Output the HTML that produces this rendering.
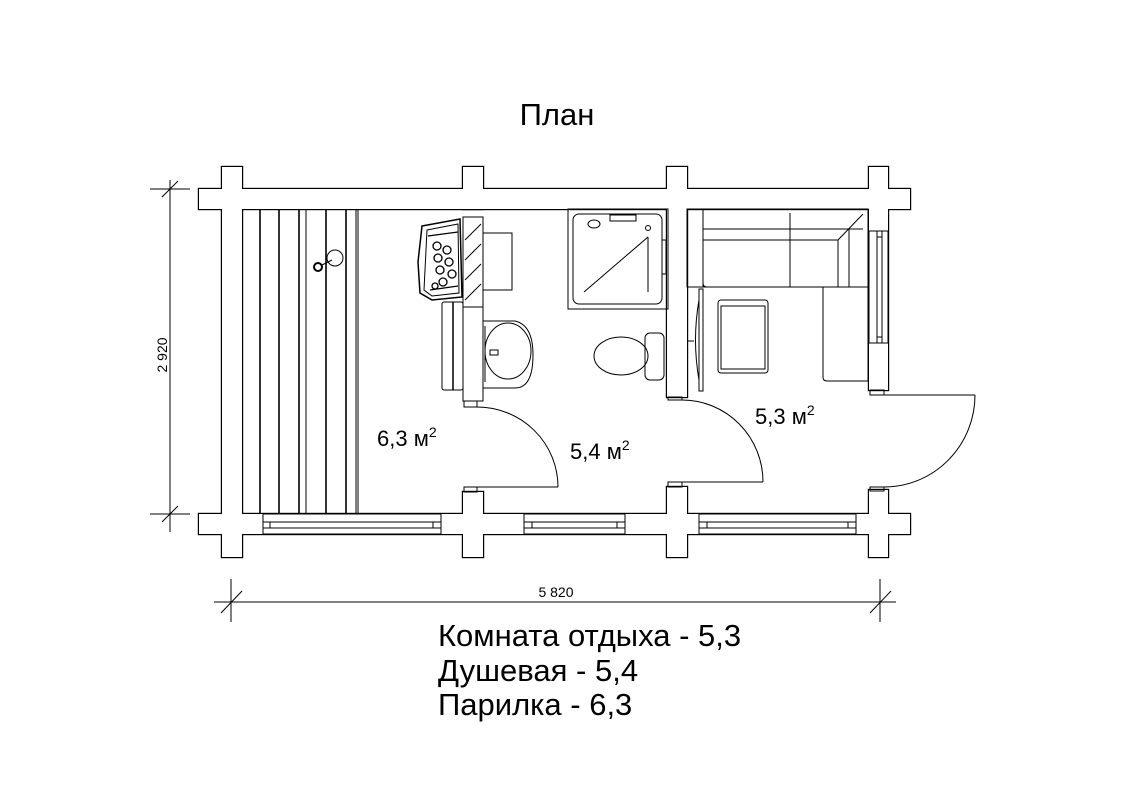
<!DOCTYPE html>
<html><head><meta charset="utf-8"><style>
html,body{margin:0;padding:0;background:#fff;}
svg{display:block;}
text{font-family:"Liberation Sans",sans-serif;fill:#000;}
</style></head><body>
<svg width="1123" height="794" viewBox="0 0 1123 794" xmlns="http://www.w3.org/2000/svg">
<rect width="1123" height="794" fill="#fff"/>
<text x="557" y="125" font-size="31" text-anchor="middle">План</text>

<g stroke="#000" stroke-width="2.4" fill="#fff">
<rect x="199" y="189" width="711" height="20"/>
<rect x="199" y="514" width="711" height="20"/>
<rect x="222" y="167" width="20" height="390"/>
<rect x="463" y="167" width="20" height="42"/>
<rect x="463" y="492" width="20" height="65"/>
<rect x="667" y="167" width="20" height="230"/>
<rect x="667" y="487" width="20" height="70"/>
<rect x="869" y="167" width="19" height="223"/>
<rect x="869" y="490" width="19" height="67"/>
</g>
<g fill="#fff">
<rect x="199" y="189" width="711" height="20"/>
<rect x="199" y="514" width="711" height="20"/>
<rect x="222" y="167" width="20" height="390"/>
<rect x="463" y="167" width="20" height="42"/>
<rect x="463" y="492" width="20" height="65"/>
<rect x="667" y="167" width="20" height="230"/>
<rect x="667" y="487" width="20" height="70"/>
<rect x="869" y="167" width="19" height="223"/>
<rect x="869" y="490" width="19" height="67"/>
</g>

<g stroke="#000" stroke-width="1" fill="none">
<rect x="263" y="514" width="178" height="20"/>
<line x1="263" y1="522" x2="441" y2="522"/><line x1="263" y1="528" x2="441" y2="528"/>
<line x1="270" y1="522" x2="270" y2="528"/><line x1="433" y1="522" x2="433" y2="528"/>
<rect x="524" y="514" width="101" height="20"/>
<line x1="524" y1="522" x2="625" y2="522"/><line x1="524" y1="528" x2="625" y2="528"/>
<line x1="532" y1="522" x2="532" y2="528"/><line x1="617" y1="522" x2="617" y2="528"/>
<rect x="699" y="514" width="157" height="20"/>
<line x1="699" y1="522" x2="856" y2="522"/><line x1="699" y1="528" x2="856" y2="528"/>
<line x1="707" y1="522" x2="707" y2="528"/><line x1="848" y1="522" x2="848" y2="528"/>
<rect x="869" y="231" width="19" height="112"/>
<line x1="877" y1="231" x2="877" y2="343"/><line x1="882" y1="231" x2="882" y2="343"/>
<line x1="877" y1="237" x2="882" y2="237"/><line x1="877" y1="337" x2="882" y2="337"/>

<rect x="463" y="217" width="20" height="90"/>
<rect x="463" y="307" width="20" height="94"/>
<rect x="464" y="401" width="13" height="6"/>
<rect x="464" y="487" width="13" height="5"/>
<rect x="668" y="397" width="14" height="3"/>
<rect x="668" y="482" width="14" height="5"/>
<rect x="870" y="390" width="14" height="5"/>
<rect x="870" y="487" width="14" height="4"/>
<line x1="465" y1="240" x2="481" y2="224"/><line x1="465" y1="260" x2="481" y2="244"/>
<line x1="465" y1="280" x2="481" y2="264"/><line x1="465" y1="300" x2="481" y2="284"/>

<line x1="260" y1="209" x2="260" y2="514" stroke-width="1.6"/>
<line x1="279" y1="209" x2="279" y2="514" stroke-width="1.6"/>
<line x1="299" y1="209" x2="299" y2="514" stroke-width="1.6"/>
<line x1="306" y1="209" x2="306" y2="514"/>
<line x1="326" y1="209" x2="326" y2="514" stroke-width="1.6"/>
<line x1="346" y1="209" x2="346" y2="514" stroke-width="1.6"/>
<line x1="356" y1="209" x2="356" y2="514"/>
<line x1="358" y1="209" x2="358" y2="514"/>

<path d="M422 226 L460 219 L462 297 L432 300 L420 293 L418 262 Z" stroke-width="1.5"/>
<path d="M427 230 L458 224 L459 293 L432 296 L424 290 Z"/>
<g stroke-width="1.3">
<circle cx="437" cy="246" r="4"/><circle cx="447" cy="250" r="4"/><circle cx="438" cy="258" r="4"/>
<circle cx="449" cy="262" r="4"/><circle cx="440" cy="270" r="4"/><circle cx="452" cy="274" r="4"/>
<circle cx="443" cy="282" r="4"/><circle cx="435" cy="286" r="3"/>
<line x1="428" y1="236" x2="458" y2="232"/><line x1="430" y1="290" x2="458" y2="286"/>
</g>
<rect x="483" y="233" width="29" height="57"/>
<rect x="442" y="302" width="21" height="88" rx="2"/>
<line x1="453" y1="302" x2="453" y2="390" stroke-width="1.5"/>
<circle cx="335" cy="258" r="8"/>
<circle cx="318" cy="267" r="4" stroke-width="2"/>
<line x1="322" y1="265" x2="332" y2="260"/>

<path d="M483 321 L515 321 Q533 325 533 355 Q533 388 515 388 L483 388"/>
<ellipse cx="508" cy="351" rx="23" ry="28"/>
<line x1="485" y1="326" x2="485" y2="382"/>
<rect x="490" y="350" width="8" height="5"/>
<rect x="568" y="209" width="100" height="100"/>
<rect x="573" y="214" width="89" height="90" rx="6"/>
<line x1="584" y1="292" x2="648" y2="237"/>
<circle cx="648" cy="228" r="2.5"/>
<line x1="648" y1="237" x2="648" y2="292"/>
<rect x="610" y="215" width="26" height="6"/>
<ellipse cx="594" cy="224" rx="6" ry="4"/>
<rect x="662" y="240" width="4" height="34"/>
<ellipse cx="621" cy="356" rx="27" ry="19"/>
<rect x="645" y="333" width="19" height="47" rx="5"/>
<line x1="477" y1="487" x2="558" y2="487"/>
<path d="M477 407 A81 80 0 0 1 558 487"/>
<line x1="682" y1="482" x2="763" y2="482"/>
<path d="M682 400 A81 82 0 0 1 763 482"/>
<line x1="884" y1="395" x2="975" y2="395"/>
<path d="M975 395 A91 92 0 0 1 884 487"/>

<rect x="687" y="209" width="16" height="78"/>
<path d="M703 209 L868 209 L868 381 L827 381 Q823 381 823 377 L823 287 L707 287 Q703 287 703 283 Z"/>
<line x1="703" y1="229" x2="863" y2="229"/>
<line x1="703" y1="240" x2="838" y2="240"/>
<line x1="790" y1="213" x2="790" y2="287"/>
<line x1="863" y1="214" x2="838" y2="240"/>
<line x1="838" y1="240" x2="838" y2="287"/>
<line x1="849" y1="229" x2="849" y2="287"/>
<line x1="703" y1="287" x2="868" y2="287"/>
<line x1="687" y1="287" x2="703" y2="287"/>
<rect x="718" y="300" width="50" height="73" rx="3"/>
<rect x="721" y="306" width="44" height="63"/>
<rect x="699" y="289" width="4" height="102"/>
<path d="M699 300 Q692 340 699 380"/>
<line x1="687" y1="341" x2="694" y2="341"/>

<line x1="170" y1="180" x2="170" y2="532"/>
<line x1="150" y1="189" x2="190" y2="189"/>
<line x1="150" y1="514" x2="190" y2="514"/>
<line x1="162" y1="197" x2="178" y2="181"/>
<line x1="162" y1="522" x2="178" y2="506"/>
<line x1="214" y1="602" x2="896" y2="602"/>
<line x1="231" y1="579" x2="231" y2="622"/>
<line x1="880" y1="579" x2="880" y2="622"/>
<line x1="221" y1="613" x2="242" y2="591"/>
<line x1="870" y1="613" x2="891" y2="591"/>
</g>
<text x="556" y="597" font-size="14" text-anchor="middle">5 820</text>
<text transform="translate(167,355) rotate(-90)" font-size="14" text-anchor="middle">2 920</text>

<text x="377" y="446" font-size="22">6,3 м<tspan font-size="14" dy="-9">2</tspan></text>
<text x="570" y="459" font-size="22">5,4 м<tspan font-size="14" dy="-9">2</tspan></text>
<text x="755" y="424" font-size="22">5,3 м<tspan font-size="14" dy="-9">2</tspan></text>

<text x="438" y="646" font-size="31">Комната отдыха - 5,3</text>
<text x="438" y="681" font-size="31">Душевая - 5,4</text>
<text x="438" y="715" font-size="31">Парилка - 6,3</text>
</svg>
</body></html>
